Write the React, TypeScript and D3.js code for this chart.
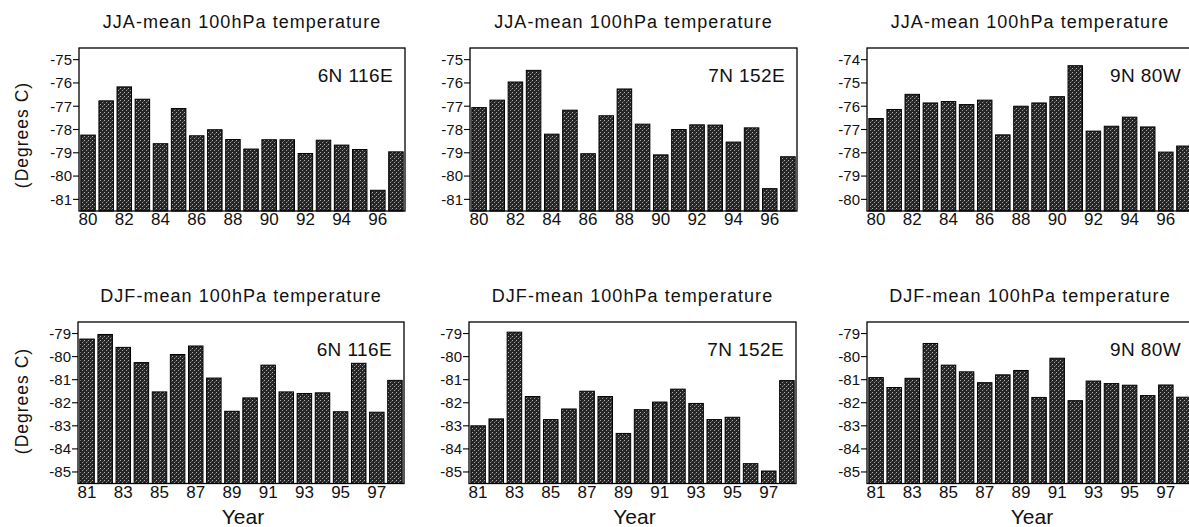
import React from "react";
import * as d3 from "d3";

const jjaYears = ["80","81","82","83","84","85","86","87","88","89","90","91","92","93","94","95","96","97"];
const djfYears = ["81","82","83","84","85","86","87","88","89","90","91","92","93","94","95","96","97","98"];
const jjaTickLabels = ["80","82","84","86","88","90","92","94","96"];
const djfTickLabels = ["81","83","85","87","89","91","93","95","97"];

const jja6N116E = [-78.24,-76.77,-76.17,-76.7,-78.61,-77.1,-78.27,-78.01,-78.43,-78.84,-78.44,-78.44,-79.03,-78.46,-78.67,-78.86,-80.61,-78.96];
const jja7N152E = [-77.06,-76.74,-75.96,-75.46,-78.2,-77.17,-79.04,-77.41,-76.26,-77.77,-79.09,-78.0,-77.8,-77.81,-78.54,-77.93,-80.54,-79.17];
const jja9N80W = [-76.53,-76.14,-75.49,-75.86,-75.8,-75.93,-75.74,-77.23,-76.0,-75.86,-75.59,-74.26,-77.07,-76.86,-76.47,-76.89,-77.97,-77.71];
const djf6N116E = [-79.24,-79.04,-79.6,-80.26,-81.53,-79.91,-79.54,-80.93,-82.37,-81.79,-80.37,-81.53,-81.6,-81.57,-82.39,-80.29,-82.41,-81.03];
const djf7N152E = [-83.0,-82.7,-78.94,-81.73,-82.73,-82.27,-81.5,-81.73,-83.33,-82.3,-81.97,-81.41,-82.03,-82.73,-82.63,-84.64,-84.96,-81.04];
const djf9N80W = [-80.91,-81.34,-80.94,-79.43,-80.37,-80.66,-81.13,-80.79,-80.6,-81.77,-80.07,-81.91,-81.06,-81.17,-81.24,-81.69,-81.23,-81.76];

const yTicksA = [-75,-76,-77,-78,-79,-80,-81];
const yTicksB = [-74,-75,-76,-77,-78,-79,-80];
const yTicksC = [-79,-80,-81,-82,-83,-84,-85];

const domainA = [-81.5, -74.5];
const domainB = [-80.5, -73.5];
const domainC = [-85.5, -78.5];

const titleJJA = "JJA-mean 100hPa temperature";
const titleDJF = "DJF-mean 100hPa temperature";

type PanelSpec = {
  left: number; top: number; width: number; height: number;
  years: string[]; values: number[]; xTicks: string[]; yTicks: number[];
  domain: number[]; title: string; site: string; yLabel: boolean; xLabel: boolean;
};

const FONT = "'Liberation Sans', Arial, Helvetica, sans-serif";
const NARROW = "'Liberation Sans Narrow', 'Liberation Sans', Arial, sans-serif";

function Panel({ p, idx }: { p: PanelSpec; idx: number }) {
  const x = d3.scaleBand<string>().domain(p.years).range([p.left, p.left + p.width]).paddingInner(0.2).paddingOuter(0.1);
  const y = d3.scaleLinear().domain(p.domain).range([p.top + p.height, p.top]);
  const bottom = p.top + p.height;
  const cx = p.left + p.width / 2;
  return (
    <g>
      <text x={cx} y={p.top - 20} textAnchor="middle" fontFamily={FONT} fontSize={18} letterSpacing={1.05} fill="#111">{p.title}</text>
      <g clipPath="url(#clipAll)">
        {p.years.map((yr, i) => (
          <rect key={yr} x={x(yr)} y={y(p.values[i])} width={x.bandwidth()} height={bottom - y(p.values[i])}
            fill="url(#stipple)" stroke="#000" strokeWidth={1} />
        ))}
        <rect x={p.left} y={p.top} width={p.width} height={p.height} fill="none" stroke="#000" strokeWidth={1.3} />
      </g>
      {p.yTicks.map((t) => (
        <g key={t}>
          <line x1={p.left - 6} x2={p.left} y1={y(t)} y2={y(t)} stroke="#000" strokeWidth={1.1} />
          <text x={p.left - 7} y={y(t)} dy="0.36em" textAnchor="end" fontFamily={NARROW} fontSize={15} fill="#111">{t}</text>
        </g>
      ))}
      {p.xTicks.map((t) => (
        <text key={t} x={(x(t) as number) + x.bandwidth() / 2} y={bottom + 14} textAnchor="middle" fontFamily={NARROW} fontSize={17} fill="#111">{t}</text>
      ))}
      <text x={p.left + p.width - 12} y={p.top + 34} textAnchor="end" fontFamily={FONT} fontSize={19} letterSpacing={0.4} fill="#111">{p.site}</text>
      {p.yLabel && (
        <text transform={`translate(28,${idx < 3 ? 135 : 401}) rotate(-90)`} textAnchor="middle" fontFamily={FONT} fontSize={17.5} letterSpacing={1} fill="#111">(Degrees C)</text>
      )}
      {p.xLabel && (
        <text x={cx + 2} y={bottom + 40} textAnchor="middle" fontFamily={FONT} fontSize={21} fill="#111">Year</text>
      )}
    </g>
  );
}

export default function App() {
  const W = 1189, H = 527;
  const panels: PanelSpec[] = [
    { left: 79, top: 48, width: 326, height: 163, years: jjaYears, values: jja6N116E, xTicks: jjaTickLabels, yTicks: yTicksA, domain: domainA, title: titleJJA, site: "6N 116E", yLabel: true, xLabel: false },
    { left: 470, top: 48, width: 327, height: 163, years: jjaYears, values: jja7N152E, xTicks: jjaTickLabels, yTicks: yTicksA, domain: domainA, title: titleJJA, site: "7N 152E", yLabel: false, xLabel: false },
    { left: 867, top: 48, width: 326, height: 163, years: jjaYears, values: jja9N80W, xTicks: jjaTickLabels, yTicks: yTicksB, domain: domainB, title: titleJJA, site: "9N 80W", yLabel: false, xLabel: false },
    { left: 78, top: 322, width: 326, height: 161.5, years: djfYears, values: djf6N116E, xTicks: djfTickLabels, yTicks: yTicksC, domain: domainC, title: titleDJF, site: "6N 116E", yLabel: true, xLabel: true },
    { left: 469, top: 322, width: 327, height: 161.5, years: djfYears, values: djf7N152E, xTicks: djfTickLabels, yTicks: yTicksC, domain: domainC, title: titleDJF, site: "7N 152E", yLabel: false, xLabel: true },
    { left: 867, top: 322, width: 326, height: 161.5, years: djfYears, values: djf9N80W, xTicks: djfTickLabels, yTicks: yTicksC, domain: domainC, title: titleDJF, site: "9N 80W", yLabel: false, xLabel: true },
  ];
  return (
    <svg width={W} height={H} style={{ position: "absolute", left: 0, top: 0, background: "#fff" }}>
      <defs>
        <pattern id="stipple" width={4} height={4} patternUnits="userSpaceOnUse">
          <rect width={4} height={4} fill="#262626" />
          <rect x={0} y={0} width={1} height={1} fill="#b0b0b0" />
          <rect x={2} y={2} width={1} height={1} fill="#9a9a9a" />
          <rect x={3} y={1} width={1} height={1} fill="#555" />
        </pattern>
        <clipPath id="clipAll"><rect x={0} y={0} width={W} height={H} /></clipPath>
      </defs>
      <rect width={W} height={H} fill="#fff" />
      {panels.map((p, i) => <Panel key={i} p={p} idx={i} />)}
    </svg>
  );
}
